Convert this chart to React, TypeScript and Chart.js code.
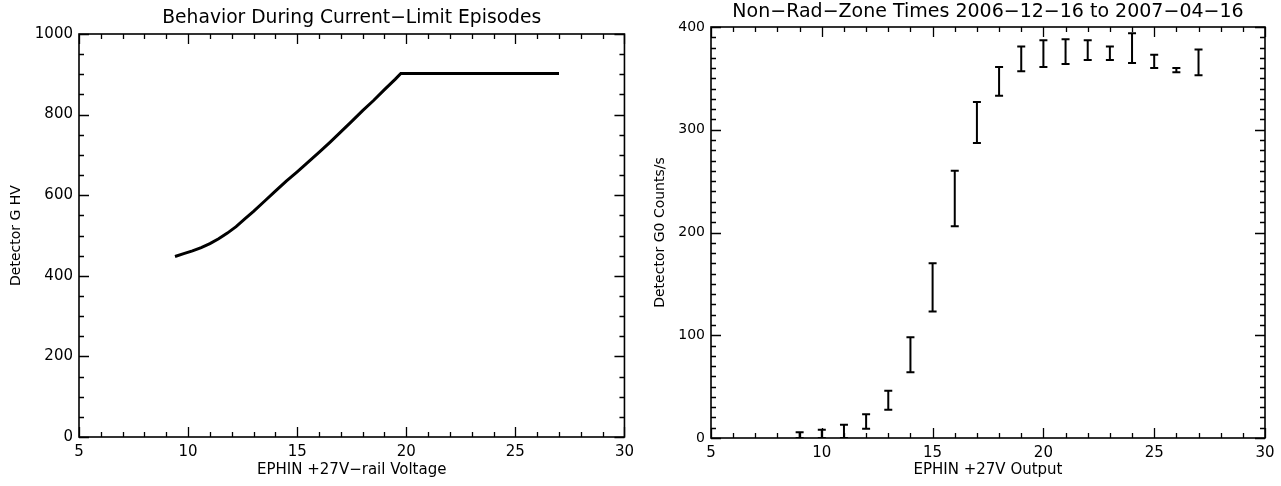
import React, { useEffect, useRef } from "react";
import { Chart, registerables } from "chart.js";

Chart.register(...registerables);

// ---- Left panel data: Detector G HV vs EPHIN +27V-rail voltage ----
const railVoltage = [
  9.4, 9.8, 10.2, 10.6, 11.0, 11.4, 11.8, 12.2, 12.6, 13.0, 13.5, 14.0, 14.5,
  15.0, 15.5, 16.0, 16.5, 17.0, 17.5, 18.0, 18.5, 19.0, 19.5, 19.75, 20.0,
  21.0, 22.0, 23.0, 24.0, 25.0, 26.0, 27.0,
];
const detectorHV = [
  448, 455, 462, 470, 480, 492, 506, 522, 541, 560, 585, 610, 635, 658, 682,
  706, 731, 757, 783, 810, 835, 862, 888, 902, 902, 902, 902, 902, 902, 902,
  902, 902,
];

// ---- Right panel data: Detector G0 counts/s vs EPHIN +27V output ----
const outputVoltage = [9, 10, 11, 12, 13, 14, 15, 16, 17, 18, 19, 20, 21, 22, 23, 24, 25, 26, 27];
const countsLow = [0, 0, 0, 9, 27.5, 64, 123, 206, 287, 333, 357, 361, 364, 368, 368, 365, 360, 356, 353];
const countsHigh = [5.5, 8, 13, 23, 46, 98, 170, 260, 327, 361, 381, 387, 388, 387, 381, 394, 373, 360, 378];

// ---- Axis / tick settings ----
const xRange = [5, 30];
const leftYRange = [0, 1000];
const rightYRange = [0, 400];

const FONT = "'DejaVu Sans', 'Liberation Sans', sans-serif";

type TextSpec = {
  title: string;
  titleSize: number;
  titleY: number;
  xTitle: string;
  xTitleY: number;
  yTitle: string;
  yTitleX: number;
};

function idlPlugin(xMajor: number, xMinor: number, yMajor: number, yMinor: number, text: TextSpec) {
  return {
    id: "idlFrame",
    afterDraw(chart: any) {
      const { ctx, chartArea: a, scales } = chart;
      const x = scales.x;
      const y = scales.y;
      ctx.save();
      ctx.strokeStyle = "#000";
      ctx.lineWidth = 1.6;
      ctx.strokeRect(a.left, a.top, a.right - a.left, a.bottom - a.top);
      ctx.lineWidth = 1.3;
      ctx.beginPath();
      for (let v = x.min; v <= x.max + 1e-9; v += xMinor) {
        const px = Math.round(x.getPixelForValue(v)) + 0.5;
        const major = Math.abs(v / xMajor - Math.round(v / xMajor)) < 1e-6;
        const len = major ? 10 : 5;
        ctx.moveTo(px, a.bottom);
        ctx.lineTo(px, a.bottom - len);
        ctx.moveTo(px, a.top);
        ctx.lineTo(px, a.top + len);
      }
      for (let v = y.min; v <= y.max + 1e-9; v += yMinor) {
        const py = Math.round(y.getPixelForValue(v)) + 0.5;
        const major = Math.abs(v / yMajor - Math.round(v / yMajor)) < 1e-6;
        const len = major ? 10 : 5;
        ctx.moveTo(a.left, py);
        ctx.lineTo(a.left + len, py);
        ctx.moveTo(a.right, py);
        ctx.lineTo(a.right - len, py);
      }
      ctx.stroke();

      ctx.fillStyle = "#000";
      ctx.textAlign = "center";
      ctx.textBaseline = "middle";
      const cx = (a.left + a.right) / 2;
      ctx.font = `${text.titleSize}px ${FONT}`;
      ctx.fillText(text.title, cx, text.titleY);
      ctx.font = `15px ${FONT}`;
      ctx.fillText(text.xTitle, cx, text.xTitleY);
      ctx.save();
      ctx.font = `14px ${FONT}`;
      ctx.translate(text.yTitleX, (a.top + a.bottom) / 2);
      ctx.rotate(-Math.PI / 2);
      ctx.fillText(text.yTitle, 0, 0);
      ctx.restore();
      ctx.restore();
    },
  };
}

const errorBarPlugin = {
  id: "errorBars",
  afterDatasetsDraw(chart: any) {
    const { ctx, chartArea: a, scales } = chart;
    const x = scales.x;
    const y = scales.y;
    ctx.save();
    ctx.beginPath();
    ctx.rect(a.left, a.top, a.right - a.left, a.bottom - a.top);
    ctx.clip();
    ctx.strokeStyle = "#000";
    ctx.lineWidth = 2;
    ctx.beginPath();
    for (let i = 0; i < outputVoltage.length; i++) {
      const px = x.getPixelForValue(outputVoltage[i]);
      const p1 = y.getPixelForValue(countsLow[i]);
      const p2 = y.getPixelForValue(countsHigh[i]);
      ctx.moveTo(px, p1);
      ctx.lineTo(px, p2);
      ctx.moveTo(px - 4, p1);
      ctx.lineTo(px + 4, p1);
      ctx.moveTo(px - 4, p2);
      ctx.lineTo(px + 4, p2);
    }
    ctx.stroke();
    ctx.restore();
  },
};

function makeScales(yMin: number, yMax: number, yStep: number, yWidth: number, xHeight: number, yFont: number) {
  return {
    x: {
      type: "linear",
      min: xRange[0],
      max: xRange[1],
      grid: { display: false, drawTicks: false },
      border: { display: false },
      ticks: {
        stepSize: 5,
        padding: 6,
        color: "#000",
        font: { family: FONT, size: 15 },
        maxRotation: 0,
        callback: (v: any) => String(v),
      },
      afterFit: (s: any) => {
        s.height = xHeight;
      },
    },
    y: {
      type: "linear",
      min: yMin,
      max: yMax,
      grid: { display: false, drawTicks: false },
      border: { display: false },
      ticks: {
        stepSize: yStep,
        padding: 6,
        color: "#000",
        font: { family: FONT, size: yFont },
        callback: (v: any) => String(v),
      },
      afterFit: (s: any) => {
        s.width = yWidth;
      },
    },
  };
}

export default function App() {
  const leftRef = useRef<HTMLCanvasElement>(null);
  const rightRef = useRef<HTMLCanvasElement>(null);

  useEffect(() => {
    const left = new Chart(leftRef.current as HTMLCanvasElement, {
      type: "scatter",
      data: {
        datasets: [
          {
            data: railVoltage.map((v, i) => ({ x: v, y: detectorHV[i] })),
            showLine: true,
            borderColor: "#000",
            borderWidth: 3,
            pointRadius: 0,
            tension: 0,
          },
        ],
      },
      options: {
        responsive: false,
        animation: false,
        devicePixelRatio: 1,
        layout: { padding: { top: 34, right: 15, left: 0, bottom: 0 } },
        plugins: { legend: { display: false }, tooltip: { enabled: false }, title: { display: false } },
        scales: makeScales(leftYRange[0], leftYRange[1], 200, 79, 49, 15) as any,
      },
      plugins: [
        idlPlugin(5, 1, 200, 50, {
          title: "Behavior During Current\u2212Limit Episodes",
          titleSize: 18.7,
          titleY: 18,
          xTitle: "EPHIN +27V\u2212rail Voltage",
          xTitleY: 470,
          yTitle: "Detector G HV",
          yTitleX: 16,
        }),
      ],
    });

    const right = new Chart(rightRef.current as HTMLCanvasElement, {
      type: "scatter",
      data: {
        datasets: [
          {
            data: outputVoltage.map((v, i) => ({ x: v, y: (countsLow[i] + countsHigh[i]) / 2 })),
            showLine: false,
            pointRadius: 0,
          },
        ],
      },
      options: {
        responsive: false,
        animation: false,
        devicePixelRatio: 1,
        layout: { padding: { top: 27, right: 16, left: 0, bottom: 0 } },
        plugins: { legend: { display: false }, tooltip: { enabled: false }, title: { display: false } },
        scales: makeScales(rightYRange[0], rightYRange[1], 100, 71, 48, 14) as any,
      },
      plugins: [
        errorBarPlugin,
        idlPlugin(5, 1, 100, 10, {
          title: "Non\u2212Rad\u2212Zone Times 2006\u221212\u221216 to 2007\u221204\u221216",
          titleSize: 19,
          titleY: 12,
          xTitle: "EPHIN +27V Output",
          xTitleY: 470,
          yTitle: "Detector G0 Counts/s",
          yTitleX: 20,
        }),
      ],
    });

    return () => {
      left.destroy();
      right.destroy();
    };
  }, []);

  return (
    <div style={{ position: "fixed", left: 0, top: 0, width: 1281, height: 486, background: "#fff", overflow: "hidden" }}>
      <canvas ref={leftRef} width={640} height={486} style={{ position: "absolute", left: 0, top: 0 }} />
      <canvas ref={rightRef} width={641} height={486} style={{ position: "absolute", left: 640, top: 0 }} />
    </div>
  );
}
